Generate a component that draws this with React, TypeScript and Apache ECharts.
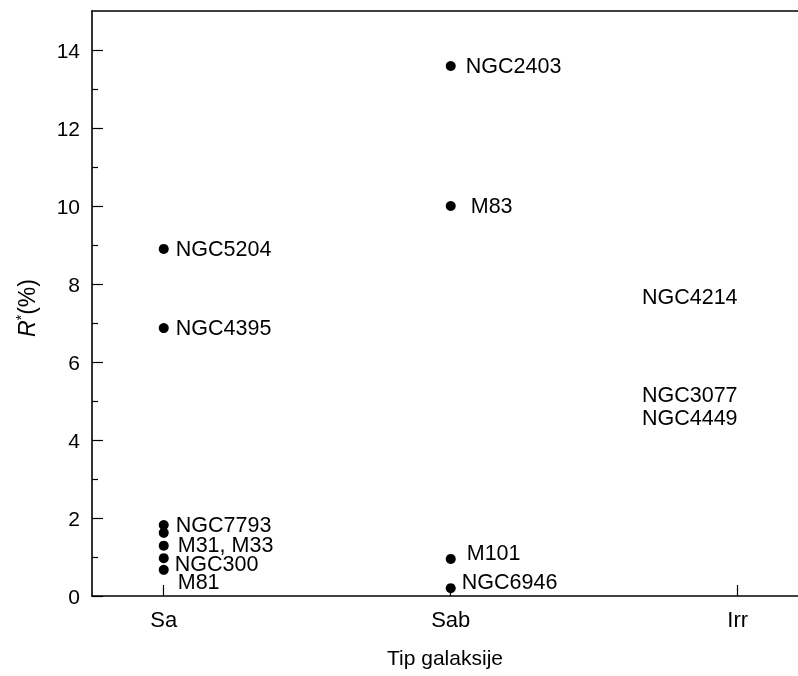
import React, { useEffect, useRef } from "react";
import * as echarts from "echarts";

// Galaxy types on the x axis (numeric positions 1, 2, 3)
const typeNames = ["Sa", "Sab", "Irr"];
const typePositions = [1, 2, 3];

// Points: galaxy name, type index, R* (%)
const galaxyNames = ["NGC5204", "NGC4395", "NGC7793", "M33", "M31", "NGC300", "M81", "NGC2403", "M83", "M101", "NGC6946", "NGC4214", "NGC3077", "NGC4449"];
const galaxyTypes = [0, 0, 0, 0, 0, 0, 0, 1, 1, 1, 1, 2, 2, 2];
const rValues = [8.9, 6.87, 1.82, 1.62, 1.29, 0.97, 0.67, 13.59, 10.0, 0.95, 0.2, 7.67, 5.16, 4.56];
const labelTexts = ["NGC5204", "NGC4395", "NGC7793", "", "M31, M33", "NGC300", "M81", "NGC2403", "M83", "M101", "NGC6946", "NGC4214", "NGC3077", "NGC4449"];
const hasDot = [true, true, true, true, true, true, true, true, true, true, true, false, false, false];

// Label layout offsets (pixels)
const labelOffsets: [number, number][] = [
  [0, 0], [0, 0], [0, 0], [0, 0], [2, -1], [-1, 6], [2, 12],
  [3, 0], [8, 0], [4, -6], [-1, -6],
  [-48, 0], [-48, 0], [-48, 0],
];

const yMajorTicks = [0, 2, 4, 6, 8, 10, 12, 14];
const yMinorTicks = [1, 3, 5, 7, 9, 11, 13];

const FONT = "'Liberation Sans', Arial, Helvetica, sans-serif";

export default function App() {
  const ref = useRef<HTMLDivElement>(null);
  useEffect(() => {
    if (!ref.current) return;
    const chart = echarts.init(ref.current, null, { renderer: "svg" });
    const data = galaxyNames.map((name, i) => {
      const dot = hasDot[i];
      return {
        name,
        value: [typePositions[galaxyTypes[i]], rValues[i]],
        symbolSize: dot ? 10 : 0,
        label: {
          show: labelTexts[i] !== "",
          formatter: labelTexts[i],
          position: dot ? "right" : "inside",
          distance: 7,
          offset: labelOffsets[i],
        },
      };
    });
    const axisLineStyle = { color: "#000", width: 1.6 };
    chart.setOption({
      animation: false,
      textStyle: { fontFamily: FONT },
      grid: { left: 92, right: 0, top: 11, bottom: 80, containLabel: false },
      xAxis: [
        {
          type: "value",
          min: 0.75,
          max: 3.21,
          position: "bottom",
          axisLine: { show: true, onZero: false, lineStyle: axisLineStyle },
          splitLine: { show: false },
          axisTick: { show: true, inside: true, length: 11, customValues: typePositions, lineStyle: { color: "#000", width: 1.2 } },
          axisLabel: {
            show: true,
            customValues: typePositions,
            formatter: (v: number) => typeNames[typePositions.indexOf(Math.round(v))] ?? "",
            color: "#000",
            fontSize: 22,
            fontFamily: FONT,
            margin: 12,
          },
          name: "Tip galaksije",
          nameLocation: "middle",
          nameGap: 51,
          nameTextStyle: { color: "#000", fontSize: 21, fontFamily: FONT },
        },
        {
          type: "value",
          min: 0.75,
          max: 3.21,
          position: "top",
          axisLine: { show: true, onZero: false, lineStyle: axisLineStyle },
          axisTick: { show: false },
          axisLabel: { show: false },
          splitLine: { show: false },
        },
      ],
      yAxis: [
        {
          type: "value",
          min: 0,
          max: 15,
          position: "left",
          axisLine: { show: true, onZero: false, lineStyle: axisLineStyle },
          splitLine: { show: false },
          axisTick: { show: true, inside: true, length: 11, customValues: yMajorTicks, lineStyle: { color: "#000", width: 1.2 } },
          axisLabel: { show: true, customValues: yMajorTicks, color: "#000", fontSize: 21, fontFamily: FONT, margin: 12 },
        },
        {
          type: "value",
          min: 0,
          max: 15,
          position: "left",
          axisLine: { show: false, onZero: false },
          splitLine: { show: false },
          axisTick: { show: true, inside: true, length: 6, customValues: yMinorTicks, lineStyle: { color: "#000", width: 1.2 } },
          axisLabel: { show: false },
        },
      ],
      graphic: [
        {
          type: "text",
          x: 27,
          y: 308,
          rotation: Math.PI / 2,
          style: {
            text: "{r|R}{s|*}{n|(%)}",
            align: "center",
            verticalAlign: "middle",
            rich: {
              r: { fontSize: 23, fontStyle: "italic", fontFamily: FONT, fill: "#000", color: "#000" },
              s: { fontSize: 14, fontFamily: FONT, fill: "#000", color: "#000", verticalAlign: "top", padding: [0, 0, 12, 0] },
              n: { fontSize: 23, fontFamily: FONT, fill: "#000", color: "#000" },
            },
          },
        },
      ],
      series: [
        {
          type: "scatter",
          xAxisIndex: 0,
          yAxisIndex: 0,
          symbol: "circle",
          itemStyle: { color: "#000", opacity: 1 },
          label: { color: "#000", fontSize: 21.5, lineHeight: 17, fontFamily: FONT },
          data,
        },
      ],
    });
    return () => chart.dispose();
  }, []);
  return <div ref={ref} style={{ position: "fixed", left: 0, top: 0, width: 798, height: 676 }} />;
}
